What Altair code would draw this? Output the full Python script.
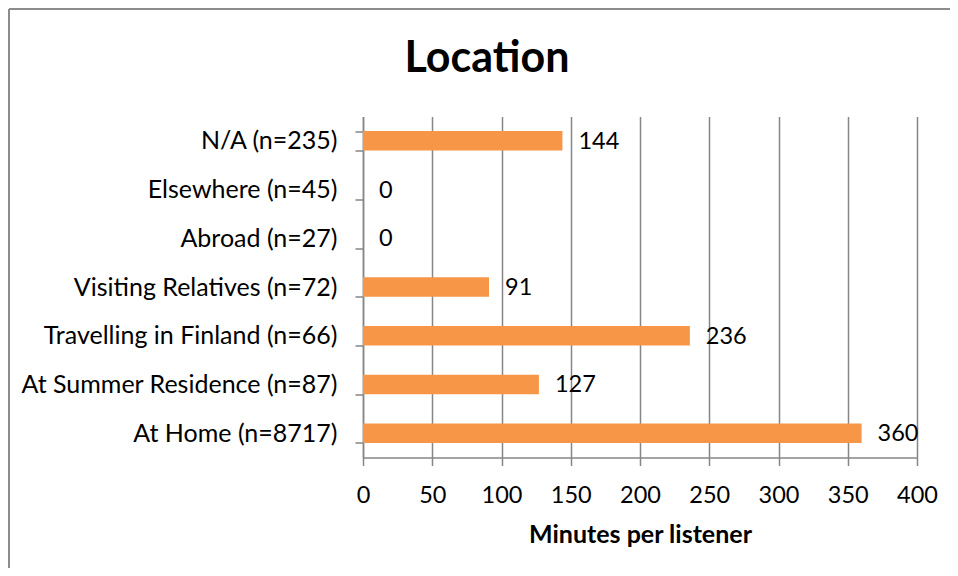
import altair as alt
import pandas as pd

categories = [
    "N/A (n=235)",
    "Elsewhere (n=45)",
    "Abroad (n=27)",
    "Visiting Relatives (n=72)",
    "Travelling in Finland (n=66)",
    "At Summer Residence (n=87)",
    "At Home (n=8717)",
]
minutes = [144, 0, 0, 91, 236, 127, 360]
x_ticks = [0, 50, 100, 150, 200, 250, 300, 350, 400]
title_text = ["Location"]

df = pd.DataFrame({"location": categories, "minutes": minutes})
border_df = pd.DataFrame({"b": [0]})
title_df = pd.DataFrame({"t": title_text})

FONT = "Lato"
GRAY = "#868686"
BAR = "#F79646"
W, H = 554, 341
PAD_L, PAD_T = 355, 108.5

y_enc = alt.Y(
    "location:N",
    sort=categories,
    title=None,
    scale=alt.Scale(paddingInner=0.6, paddingOuter=0.3),
    axis=alt.Axis(
        tickBand="extent",
        grid=False,
        domainColor=GRAY,
        domainWidth=1.5,
        tickColor=GRAY,
        tickWidth=1.5,
        tickSize=8,
        labelPadding=18,
        labelLimit=0,
        labelFont=FONT,
        labelFontSize=25,
        labelColor="black",
    ),
)

x_enc = alt.X(
    "minutes:Q",
    scale=alt.Scale(domain=[0, 400], nice=False),
    axis=alt.Axis(
        values=x_ticks,
        grid=True,
        gridColor=GRAY,
        gridWidth=1.5,
        domainColor=GRAY,
        domainWidth=1.5,
        tickColor=GRAY,
        tickWidth=1.5,
        tickSize=8,
        labelPadding=18,
        labelFlush=False,
        labelFont=FONT,
        labelFontSize=23.5,
        labelColor="black",
        title="Minutes per listener",
        titleFont=FONT,
        titleFontSize=25,
        titleFontWeight="bold",
        titleColor="black",
        titleBaseline="top",
        titleY=65,
    ),
)

bars = alt.Chart(df).mark_bar(color=BAR).encode(x=x_enc, y=y_enc)

labels = alt.Chart(df).mark_text(
    align="left", baseline="middle", dx=16, dy=1, font=FONT, fontSize=23.5, color="black"
).encode(x="minutes:Q", y=alt.Y("location:N", sort=categories), text="minutes:Q")

title = alt.Chart(title_df).mark_text(
    align="center", baseline="alphabetic", font=FONT, fontSize=43, fontWeight="bold", color="black"
).encode(x=alt.value(124), y=alt.value(-45), text="t:N")

border_left = alt.Chart(border_df).mark_rule(color="#8c8c8c", strokeWidth=2).encode(
    x=alt.value(-(PAD_L - 1)), y=alt.value(-(PAD_T - 1)), y2=alt.value(H + 120)
)
border_top = alt.Chart(border_df).mark_rule(color="#8c8c8c", strokeWidth=2).encode(
    y=alt.value(-(PAD_T - 1)), x=alt.value(-(PAD_L - 1)), x2=alt.value(W + 40)
)

chart = alt.layer(bars, labels, title, border_left, border_top).properties(
    width=W,
    height=H,
    autosize=alt.AutoSizeParams(type="none"),
    padding={"left": PAD_L, "top": PAD_T, "right": 950 - 8 - PAD_L - W, "bottom": 568 - 8 - PAD_T - H},
).configure_view(stroke=None)

chart.save("out.html", embed_options={"renderer": "svg", "actions": False})
